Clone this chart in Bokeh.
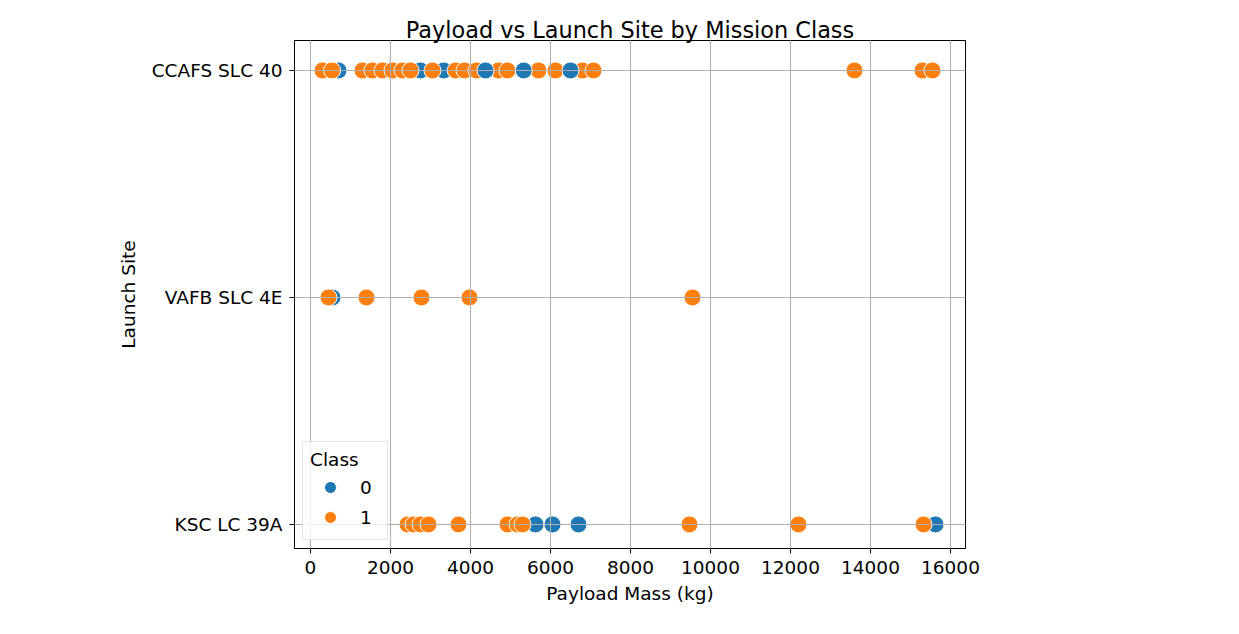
from bokeh.plotting import figure
from bokeh.models import (ColumnDataSource, Range1d, FixedTicker, Legend, LegendItem)
from bokeh.transform import factor_cmap
from bokeh.embed import file_html
from bokeh.resources import INLINE

# ---- data ----
sites = ["CCAFS SLC 40", "VAFB SLC 4E", "KSC LC 39A"]
class_labels = ["0", "1"]
class_colors = ["#1f77b4", "#ff7f0e"]
x_ticks = [0, 2000, 4000, 6000, 8000, 10000, 12000, 14000, 16000]

# drawing order matters (later points are drawn on top)
payload_mass = [
    700, 2750, 3330, 550, 5625, 15625,
    300, 540, 1300, 1550, 1800, 2050, 2300, 2500, 3050, 3630, 3850, 4150,
    4700, 4925, 5700, 6125, 6800, 7075, 13600, 15300, 15550,
    450, 1400, 2775, 3975, 9550,
    2425, 2575, 2750, 2950, 3700, 4925, 5175, 5300, 9475, 12200, 15325,
    4375, 5330, 6500, 6050, 6700,
]
launch_site = [
    "CCAFS SLC 40", "CCAFS SLC 40", "CCAFS SLC 40", "VAFB SLC 4E", "KSC LC 39A", "KSC LC 39A",
    "CCAFS SLC 40", "CCAFS SLC 40", "CCAFS SLC 40", "CCAFS SLC 40", "CCAFS SLC 40", "CCAFS SLC 40",
    "CCAFS SLC 40", "CCAFS SLC 40", "CCAFS SLC 40", "CCAFS SLC 40", "CCAFS SLC 40", "CCAFS SLC 40",
    "CCAFS SLC 40", "CCAFS SLC 40", "CCAFS SLC 40", "CCAFS SLC 40", "CCAFS SLC 40", "CCAFS SLC 40",
    "CCAFS SLC 40", "CCAFS SLC 40", "CCAFS SLC 40",
    "VAFB SLC 4E", "VAFB SLC 4E", "VAFB SLC 4E", "VAFB SLC 4E", "VAFB SLC 4E",
    "KSC LC 39A", "KSC LC 39A", "KSC LC 39A", "KSC LC 39A", "KSC LC 39A", "KSC LC 39A",
    "KSC LC 39A", "KSC LC 39A", "KSC LC 39A", "KSC LC 39A", "KSC LC 39A",
    "CCAFS SLC 40", "CCAFS SLC 40", "CCAFS SLC 40", "KSC LC 39A", "KSC LC 39A",
]
mission_class = [
    "0", "0", "0", "0", "0", "0",
    "1", "1", "1", "1", "1", "1", "1", "1", "1", "1", "1", "1",
    "1", "1", "1", "1", "1", "1", "1", "1", "1",
    "1", "1", "1", "1", "1",
    "1", "1", "1", "1", "1", "1", "1", "1", "1", "1", "1",
    "0", "0", "0", "0", "0",
]

site_pos = [sites.index(s) for s in launch_site]
source = ColumnDataSource(dict(x=payload_mass, y=site_pos, site=launch_site, cls=mission_class))

FONT = "DejaVu Sans"
TICK_FS = "18.5px"

p = figure(width=1239, height=634, output_backend="svg", toolbar_location=None,
           x_range=Range1d(-400, 16375), y_range=Range1d(2.106, -0.132),
           title="Payload vs Launch Site by Mission Class",
           min_border_left=294, min_border_right=274, min_border_top=40, min_border_bottom=86)

p.title.align = "center"
p.title.text_font = FONT
p.title.text_font_size = "22.4px"
p.title.text_font_style = "normal"
p.title.text_color = "#000000"
p.title.standoff = -5

r = p.scatter("x", "y", source=source, size=17, line_color="white", line_width=1,
              fill_color=factor_cmap("cls", class_colors, class_labels), fill_alpha=1)

p.xaxis.ticker = FixedTicker(ticks=x_ticks)
p.yaxis.ticker = FixedTicker(ticks=list(range(len(sites))))
p.yaxis.major_label_overrides = {i: s for i, s in enumerate(sites)}
p.xaxis.axis_label = "Payload Mass (kg)"
p.yaxis.axis_label = "Launch Site"

for ax in (p.xaxis, p.yaxis):
    ax.major_label_text_font = FONT
    ax.major_label_text_font_size = TICK_FS
    ax.major_label_text_color = "#000000"
    ax.axis_label_text_font = FONT
    ax.axis_label_text_font_size = TICK_FS
    ax.axis_label_text_font_style = "normal"
    ax.axis_label_text_color = "#000000"
    ax.minor_tick_line_color = None
    ax.major_tick_out = 5
    ax.major_tick_in = 0
    ax.major_tick_line_color = "#000000"
    ax.axis_line_color = "#000000"
    ax.major_label_standoff = 7
    ax.axis_label_standoff = 6
p.yaxis.axis_label_standoff = 10

p.outline_line_color = "#000000"
p.outline_line_width = 1
p.outline_line_alpha = 1

for g in (p.xgrid, p.ygrid):
    g.grid_line_color = "#b0b0b0"
    g.grid_line_width = 1.1
    g.level = "guide"
p.xgrid.ticker = FixedTicker(ticks=x_ticks)
p.ygrid.ticker = FixedTicker(ticks=list(range(len(sites))))

first0 = mission_class.index("0")
first1 = mission_class.index("1")
legend = Legend(items=[LegendItem(label="0", renderers=[r], index=first0),
                       LegendItem(label="1", renderers=[r], index=first1)],
                location="bottom_left", title="Class")
legend.title_text_font = FONT
legend.title_text_font_size = TICK_FS
legend.title_text_font_style = "normal"
legend.title_text_color = "#000000"
legend.label_text_font = FONT
legend.label_text_font_size = TICK_FS
legend.label_text_color = "#000000"
legend.border_line_color = "#cccccc"
legend.background_fill_alpha = 0.8
legend.padding = 7
legend.margin = 8
legend.glyph_width = 40
legend.glyph_height = 30
legend.label_standoff = 10
legend.spacing = 0
legend.title_standoff = 2
p.add_layout(legend)

open("out.html", "w").write(file_html(p, INLINE))
